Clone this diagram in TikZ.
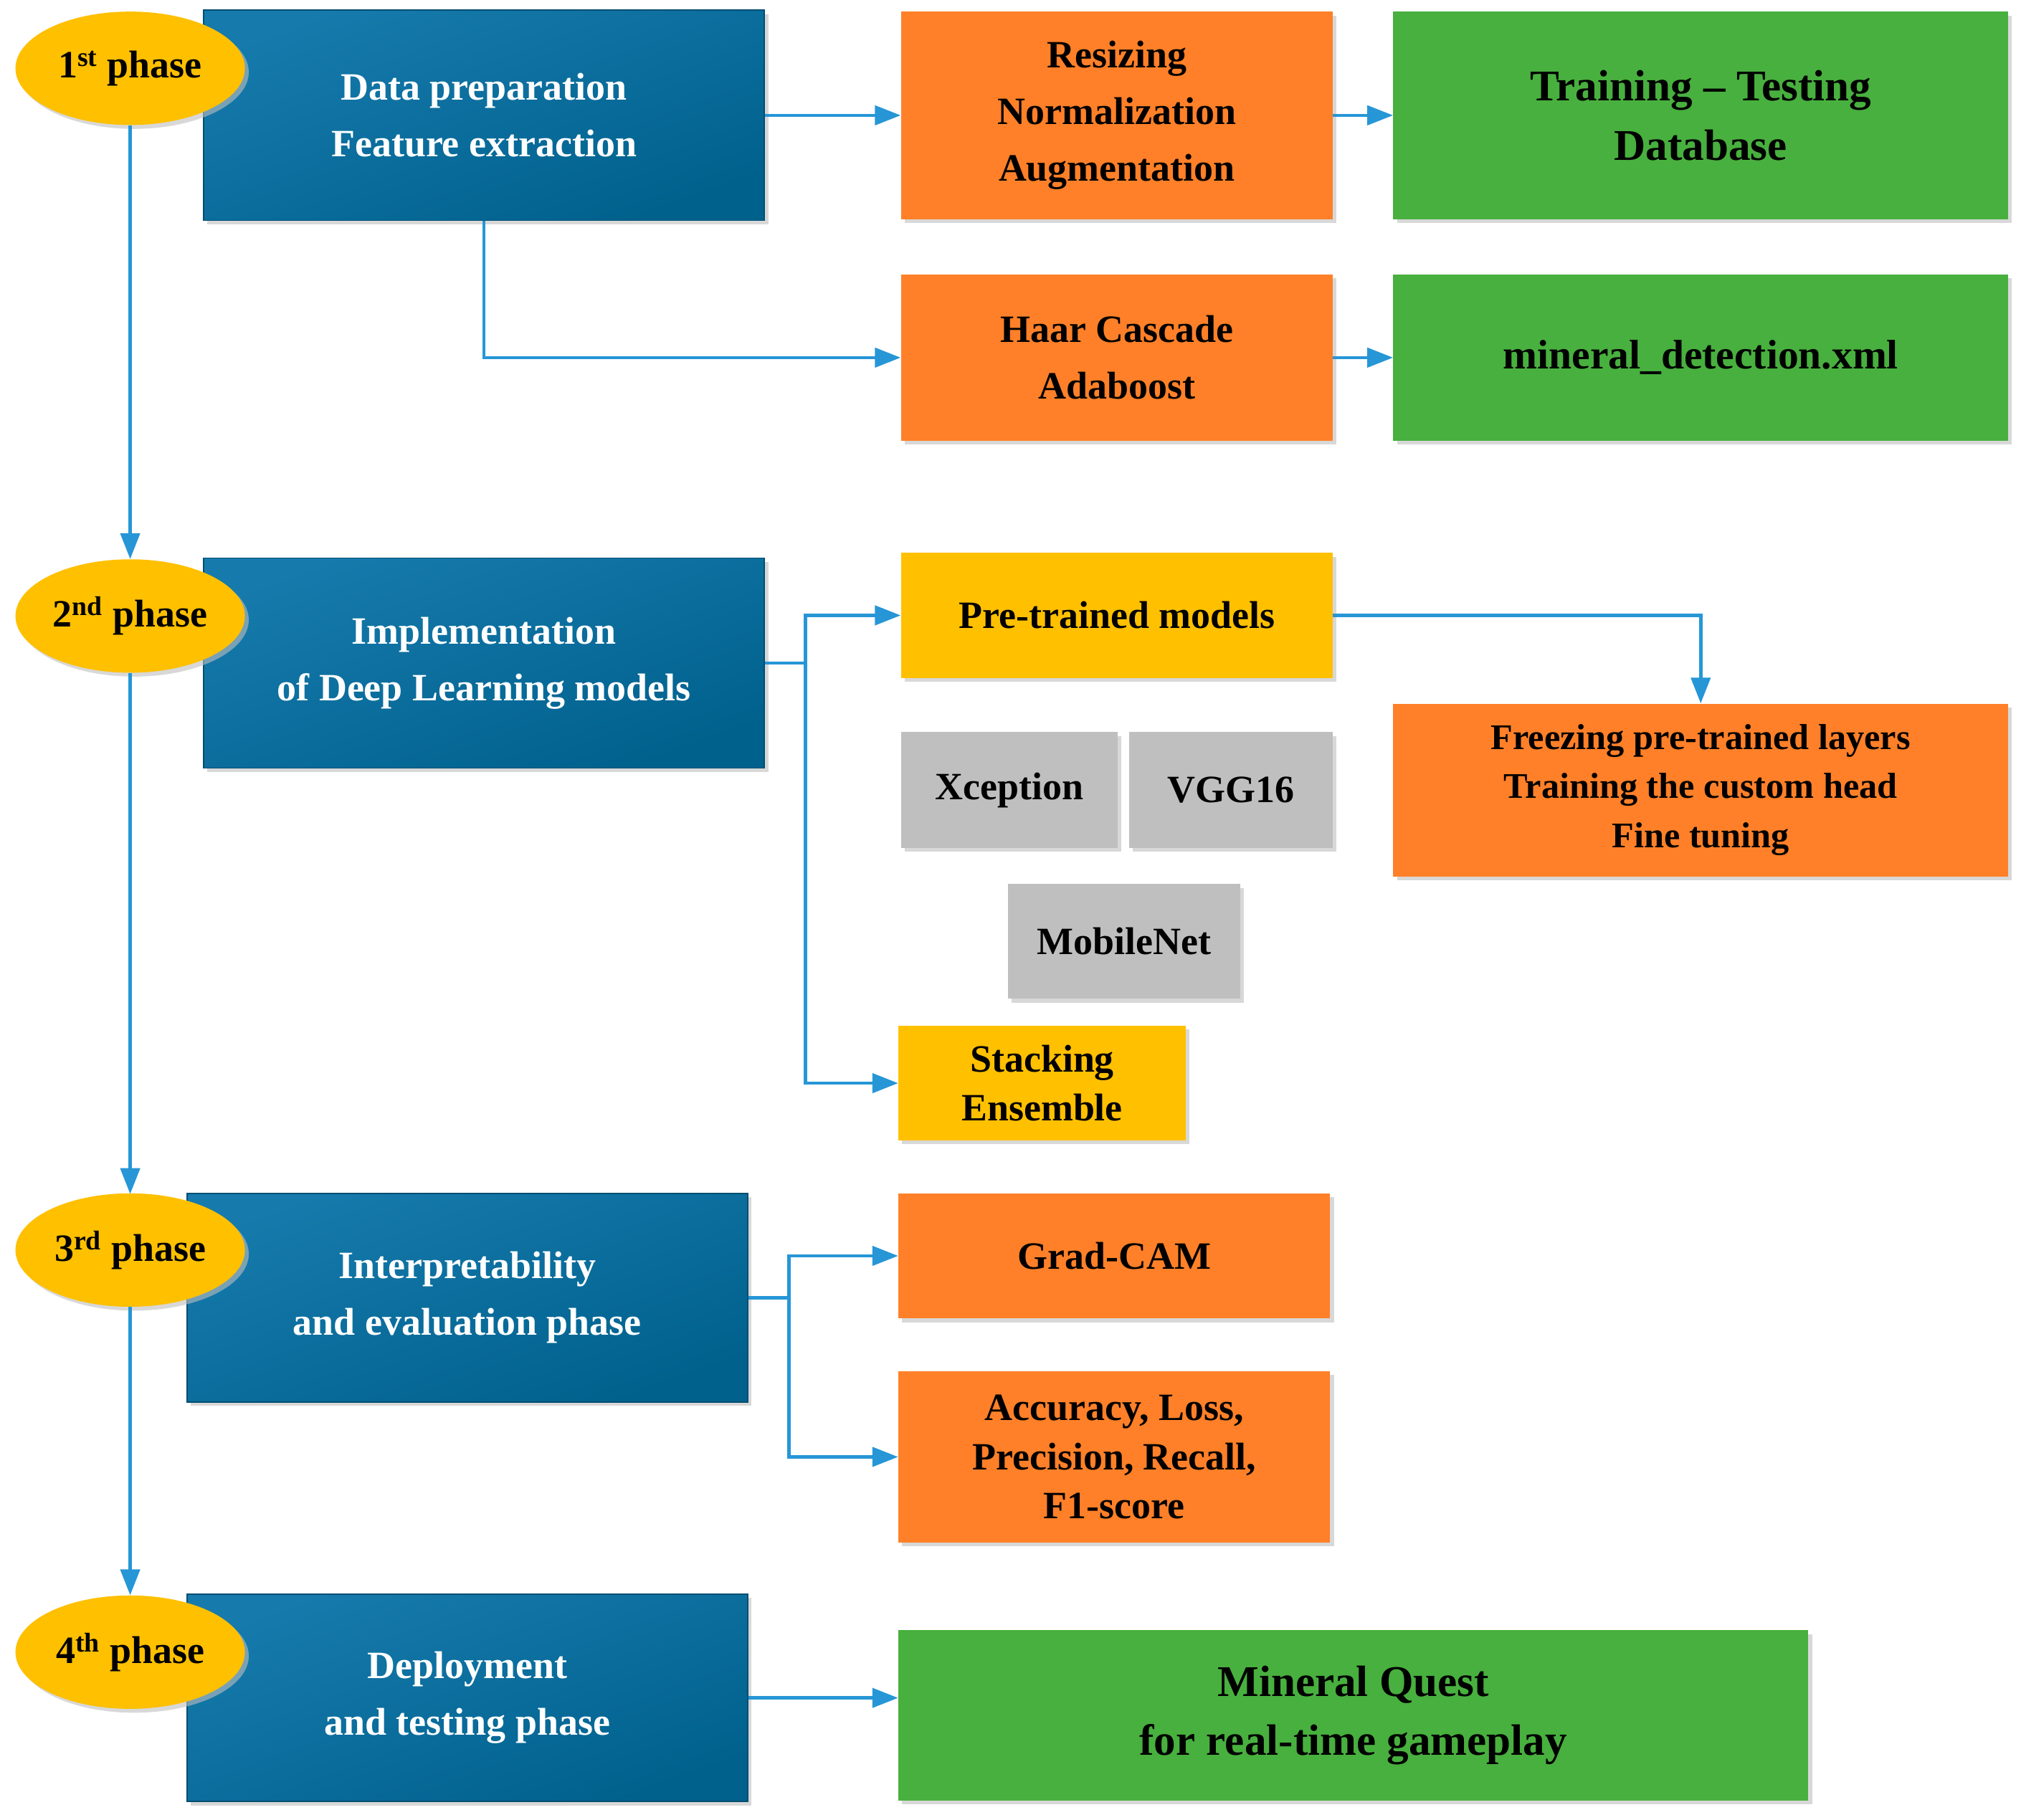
\documentclass[tikz,border=0pt]{standalone}
\usepackage{fontspec}
\setmainfont{Liberation Serif}
\usetikzlibrary{shapes.geometric,shadows,arrows.meta}
\definecolor{dblue}{RGB}{0,97,141}
\definecolor{lblue}{RGB}{22,122,172}
\definecolor{orng}{RGB}{255,128,40}
\definecolor{grn}{RGB}{72,176,62}
\definecolor{ylw}{RGB}{255,192,0}
\definecolor{gry}{RGB}{191,191,191}
\definecolor{arr}{RGB}{38,150,214}
\begin{document}
\begin{tikzpicture}[x=1pt,y=-1pt,
 box/.style={rectangle,inner sep=2pt,align=center,font=\bfseries\fontsize{30}{44}\selectfont,
   drop shadow={shadow xshift=3pt,shadow yshift=-3pt,fill=black!25,opacity=0.6}},
 bbox/.style={box,draw=dblue!80!black,line width=1pt,top color=lblue,bottom color=dblue,shading angle=20,text=white},
 ph/.style={ellipse,fill=ylw,minimum width=178pt,minimum height=88pt,inner sep=0pt,font=\bfseries\fontsize{30}{36}\selectfont,
   drop shadow={shadow xshift=3pt,shadow yshift=-3pt,fill=black!25,opacity=0.6}},
 ar/.style={draw=arr,line width=2.5pt,-{Triangle[length=20pt,width=15pt]}},
 ln/.style={draw=arr,line width=2.5pt}]
\useasboundingbox (0,0) rectangle (1568,1412);
\fill[white] (0,0) rectangle (1568,1412);
% blue boxes
\node[bbox,minimum width=435pt,minimum height=163pt] (b1) at (375.5,89.5) {Data preparation\\Feature extraction};
\node[bbox,minimum width=435pt,minimum height=163pt] (b2) at (375.5,514.5) {Implementation\\of Deep Learning models};
\node[bbox,minimum width=435pt,minimum height=162pt] (b3) at (362.5,1007) {Interpretability\\and evaluation phase};
\node[bbox,minimum width=435pt,minimum height=161pt] (b4) at (362.5,1317.5) {Deployment\\and testing phase};
% phase ellipses
\node[ph] (p1) at (101,53) {1\textsuperscript{st} phase};
\node[ph] (p2) at (101,478) {2\textsuperscript{nd} phase};
\node[ph] (p3) at (101,970) {3\textsuperscript{rd} phase};
\node[ph] (p4) at (101,1282) {4\textsuperscript{th} phase};
% others
\node[box,fill=orng,minimum width=335pt,minimum height=161pt] (o1) at (866.5,89.5) {Resizing\\Normalization\\Augmentation};
\node[box,fill=grn,minimum width=477pt,minimum height=161pt,font=\bfseries\fontsize{34}{46}\selectfont] (g1) at (1319.5,89.5) {Training -- Testing\\Database};
\node[box,fill=orng,minimum width=335pt,minimum height=129pt] (haar) at (866.5,277.5) {Haar Cascade\\Adaboost};
\node[box,fill=grn,minimum width=477pt,minimum height=129pt,font=\bfseries\fontsize{32}{44}\selectfont] (min) at (1319.5,277.5) {mineral\_detection.xml};
\node[box,fill=ylw,minimum width=335pt,minimum height=97pt] (pre) at (866.5,477.5) {Pre-trained models};
\node[box,fill=orng,minimum width=477pt,minimum height=134pt,font=\bfseries\fontsize{28}{38}\selectfont] (frz) at (1319.5,613) {Freezing pre-trained layers\\Training the custom head\\Fine tuning};
\node[box,fill=gry,minimum width=168pt,minimum height=90pt] (xc) at (783,613) {Xception};
\node[box,fill=gry,minimum width=158pt,minimum height=90pt] (vgg) at (955,613) {VGG16};
\node[box,fill=gry,minimum width=180pt,minimum height=89pt] (mob) at (872,730.5) {MobileNet};
\node[box,fill=ylw,minimum width=223pt,minimum height=89pt,font=\bfseries\fontsize{30}{38}\selectfont] (stk) at (808.5,840.5) {Stacking\\Ensemble};
\node[box,fill=orng,minimum width=335pt,minimum height=97pt] (grad) at (864.5,974.5) {Grad-CAM};
\node[box,fill=orng,minimum width=335pt,minimum height=133pt,font=\bfseries\fontsize{30}{38}\selectfont] (acc) at (864.5,1130.5) {Accuracy, Loss,\\Precision, Recall,\\F1-score};
\node[box,fill=grn,minimum width=706pt,minimum height=132pt,font=\bfseries\fontsize{34}{46}\selectfont] (mq) at (1050,1331) {Mineral Quest\\for real-time gameplay};
% connectors
\coordinate (j2) at (625,514.5);
\coordinate (j3) at (612,1007);
\draw[ar] (p1.south) -- (p2.north);
\draw[ar] (p2.south) -- ([yshift=-1pt]b3.north -| p3);
\draw[ar] (p3.south) -- (p4.north);
\draw[ar] (b1.east) -- (o1.west);
\draw[ar] (o1.east) -- (g1.west);
\draw[ar] (b1.south) |- (haar.west);
\draw[ar] (haar.east) -- (min.west);
\draw[ln] (b2.east) -- (j2);
\draw[ar] (j2) |- (pre.west);
\draw[ar] (j2) |- (stk.west);
\draw[ar] (pre.east) -| (frz.north);
\draw[ln] (b3.east) -- (j3);
\draw[ar] (j3) |- (grad.west);
\draw[ar] (j3) |- (acc.west);
\draw[ar] (b4.east) -- (b4.east -| mq.west);
\end{tikzpicture}
\end{document}
